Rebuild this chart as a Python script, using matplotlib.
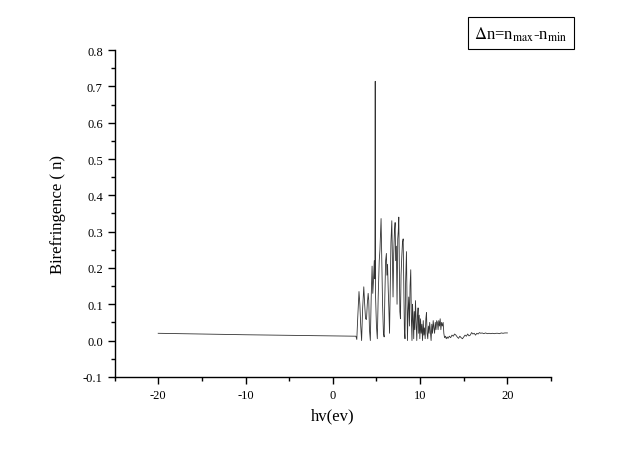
import matplotlib
matplotlib.use("Agg")
import matplotlib.pyplot as plt
from matplotlib.ticker import MultipleLocator, FormatStrFormatter

plt.rcParams['font.family'] = ['Liberation Serif', 'DejaVu Serif']
plt.rcParams['mathtext.fontset'] = 'stix'
plt.rcParams['axes.unicode_minus'] = False

# photon energy (eV) and birefringence
energy = [-20.0, -10.0, 2.5, 2.65, 2.75, 2.85, 3.0, 3.1, 3.2, 3.3, 3.42, 3.55, 3.65,
          3.75, 3.86, 3.95, 4.05, 4.12, 4.2, 4.3, 4.4, 4.5, 4.58, 4.65, 4.75, 4.82,
          4.86, 4.9, 5.0, 5.1, 5.2, 5.32, 5.4, 5.48, 5.53, 5.6, 5.7, 5.8, 5.88, 5.96,
          6.05, 6.14, 6.2, 6.27, 6.35, 6.42, 6.5, 6.58, 6.66, 6.76, 6.84, 6.9, 6.98,
          7.06, 7.14, 7.2, 7.28, 7.36, 7.44, 7.5, 7.56, 7.62, 7.68, 7.75, 7.82, 7.9,
          7.98, 8.06, 8.13, 8.2, 8.27, 8.34, 8.44, 8.5, 8.55, 8.62, 8.7, 8.78, 8.85,
          8.93, 9.0, 9.07, 9.13, 9.2, 9.27, 9.33, 9.4, 9.47, 9.55, 9.62, 9.7, 9.77,
          9.84, 9.9, 9.97, 10.05, 10.12, 10.2, 10.28, 10.36, 10.43, 10.5, 10.58,
          10.66, 10.73, 10.8, 10.88, 10.95, 11.03, 11.1, 11.18, 11.26, 11.34, 11.42,
          11.5, 11.58, 11.66, 11.74, 11.82, 11.9, 11.98, 12.06, 12.14, 12.22, 12.3,
          12.38, 12.46, 12.55, 12.64, 12.72, 12.8, 12.9, 13.0, 13.1, 13.2, 13.35,
          13.5, 13.65, 13.8, 13.95, 14.1, 14.25, 14.4, 14.55, 14.7, 14.85, 15.0,
          15.15, 15.3, 15.45, 15.6, 15.75, 15.9, 16.05, 16.2, 16.35, 16.5, 16.65,
          16.8, 16.95, 17.1, 17.3, 17.5, 17.7, 17.9, 18.1, 18.3, 18.5, 18.7, 18.9,
          19.1, 19.3, 19.5, 19.7, 20.0]
delta_n = [0.020, 0.016, 0.012, 0.012, 0.003, 0.06, 0.135, 0.10, 0.04, 0.0, 0.09, 0.148, 0.10,
           0.06, 0.058, 0.10, 0.13, 0.11, 0.03, 0.0, 0.12, 0.205, 0.13, 0.16, 0.22, 0.17,
           0.714, 0.12, 0.04, 0.005, 0.12, 0.22, 0.25, 0.30, 0.336, 0.24, 0.10, 0.02, 0.01, 0.12,
           0.22, 0.24, 0.18, 0.21, 0.14, 0.09, 0.02, 0.15, 0.27, 0.33, 0.20, 0.12, 0.24,
           0.30, 0.325, 0.22, 0.26, 0.10, 0.28, 0.30, 0.34, 0.20, 0.08, 0.06, 0.18, 0.23,
           0.27, 0.28, 0.15, 0.03, 0.005, 0.16, 0.245, 0.10, 0.0, 0.08, 0.12, 0.04, 0.15,
           0.195, 0.06, 0.0, 0.10, 0.06, 0.005, 0.08, 0.03, 0.11, 0.05, 0.0, 0.065, 0.09,
           0.02, 0.07, 0.005, 0.06, 0.02, 0.045, 0.0, 0.055, 0.015, 0.035, 0.005,
           0.06, 0.077, 0.02, 0.005, 0.04, 0.02, 0.05, 0.025, 0.0, 0.045, 0.02,
           0.055, 0.035, 0.02, 0.05, 0.03, 0.055, 0.05, 0.03, 0.055, 0.04, 0.06,
           0.03, 0.05, 0.04, 0.05, 0.02, 0.008, 0.012, 0.005, 0.01, 0.006, 0.012,
           0.008, 0.015, 0.012, 0.018, 0.015, 0.010, 0.006, 0.012, 0.008, 0.005, 0.010,
           0.015, 0.012, 0.018, 0.013, 0.015, 0.022, 0.018, 0.02, 0.015, 0.02, 0.018,
           0.022, 0.02, 0.021, 0.019, 0.021, 0.019, 0.02, 0.019, 0.02, 0.019, 0.02, 0.02,
           0.019, 0.021, 0.02, 0.021, 0.021]

fig = plt.figure(figsize=(6.4, 4.52), dpi=100)
ax = fig.add_axes([0.179, 0.164, 0.682, 0.723])

ax.plot(energy, delta_n, color='#333333', linewidth=0.6)

ax.set_xlim(-25, 25)
ax.set_ylim(-0.1, 0.8)
ax.xaxis.set_major_locator(MultipleLocator(10))
ax.xaxis.set_minor_locator(MultipleLocator(5))
ax.yaxis.set_major_locator(MultipleLocator(0.1))
ax.yaxis.set_minor_locator(MultipleLocator(0.05))
ax.yaxis.set_major_formatter(FormatStrFormatter('%.1f'))

for side in ['top', 'right']:
    ax.spines[side].set_visible(False)
ax.spines['left'].set_linewidth(1.0)
ax.spines['bottom'].set_linewidth(1.0)
ax.tick_params(which='major', direction='out', length=5, width=1, labelsize=9)
ax.tick_params(which='minor', direction='out', length=3, width=1)

ax.set_xlabel('hv(ev)', fontsize=12, labelpad=5)
ax.set_ylabel('Birefringence ( n)', fontsize=12, labelpad=12)

fig.text(0.814, 0.924, r'$\Delta$n=n$_{\mathrm{max}}$-n$_{\mathrm{min}}$', fontsize=12,
         ha='center', va='center',
         bbox=dict(boxstyle='square,pad=0.4', facecolor='white', edgecolor='black', linewidth=0.8))

fig.savefig('out.png', dpi=100)
